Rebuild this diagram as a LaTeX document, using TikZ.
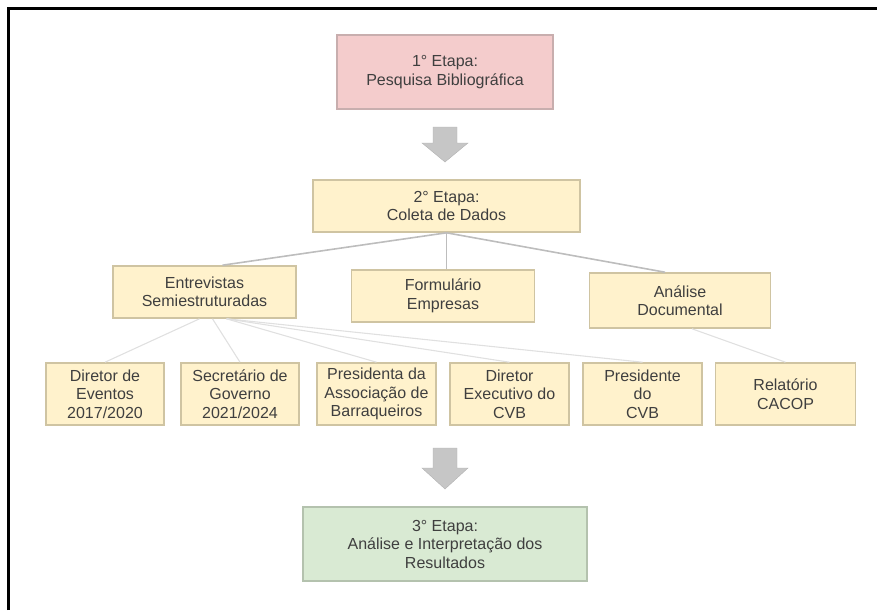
\documentclass[tikz,border=0pt]{standalone}
\usepackage{fontspec}
\setmainfont{Liberation Sans}
\definecolor{pinkfill}{HTML}{F4CCCC}
\definecolor{yelfill}{HTML}{FFF2CC}
\definecolor{grnfill}{HTML}{D9EAD3}
\definecolor{pinkline}{HTML}{C8AEAE}
\definecolor{yelline}{HTML}{CFC4A2}
\definecolor{grnline}{HTML}{B4C2AE}
\definecolor{txtgray}{HTML}{3F3F3F}
\definecolor{linkgray}{HTML}{BDBDBD}
\definecolor{leafgray}{HTML}{E0E0E0}
\definecolor{arrowfill}{HTML}{C6C6C6}
\tikzset{
  stagebox/.style={line width=1.6pt, inner sep=0pt, align=center,
    text=txtgray, font=\fontsize{16}{18.5}\selectfont},
  pinkbox/.style={stagebox, fill=pinkfill, draw=pinkline},
  yelbox/.style={stagebox, fill=yelfill, draw=yelline},
  grnbox/.style={stagebox, fill=grnfill, draw=grnline},
  link/.style={draw=linkgray, line width=1.6pt},
  leaflink/.style={draw=leafgray, line width=1.1pt},
  blockarrow/.style={fill=arrowfill, draw=arrowfill!90!black, line width=0.4pt},
  frameline/.style={line width=3pt, black}
}
\begin{document}
\begin{tikzpicture}[x=1pt,y=-1pt]
\useasboundingbox (0,0) rectangle (877,610);
\draw[frameline] (8,610) -- (8,8.5) -- (877,8.5);

\node[pinkbox, minimum width=216pt, minimum height=74pt] (b1) at (445,72) {1° Etapa:\\Pesquisa Bibliográfica};
\node[yelbox, minimum width=267pt, minimum height=52pt] (b2) at (446.5,206) {2° Etapa:\\Coleta de Dados};

\node[yelbox, minimum width=183pt, minimum height=52pt] (ent) at (204.5,292) {Entrevistas\\Semiestruturadas};
\node[yelbox, minimum width=183pt, minimum height=52pt] (form) at (443,296) {Formulário\\Empresas};
\node[yelbox, minimum width=181pt, minimum height=55pt] (doc) at (680,300.5) {Análise\\Documental};

\node[yelbox, minimum width=118pt, minimum height=62pt] (d1) at (105,394) {Diretor de\\Eventos\\2017/2020};
\node[yelbox, minimum width=118pt, minimum height=62pt] (d2) at (240,394) {Secretário de\\Governo\\2021/2024};
\node[yelbox, minimum width=119pt, minimum height=62pt] (d3) at (376.5,394) {Presidenta da\\Associação de\\Barraqueiros};
\node[yelbox, minimum width=119pt, minimum height=62pt] (d4) at (509.5,394) {Diretor\\Executivo do\\CVB};
\node[yelbox, minimum width=119pt, minimum height=62pt] (d5) at (642.5,394) {Presidente\\do\\CVB};
\node[yelbox, minimum width=140pt, minimum height=62pt] (d6) at (785.5,394) {Relatório\\CACOP};

\node[grnbox, minimum width=284pt, minimum height=74pt] (b3) at (445,544) {3° Etapa:\\Análise e Interpretação dos\\Resultados};

% connectors
\draw[link] (b2.south) -- ([xshift=18pt]ent.north);
\draw[link] (b2.south) -- (b2.south |- form.north);
\draw[link] (b2.south) -- ([xshift=-15pt]doc.north);
\draw[leaflink] ([xshift=-5pt]ent.south) -- (d1.north);
\draw[leaflink] ([xshift=8pt]ent.south) -- (d2.north);
\foreach \d in {d3,d4,d5}{
  \draw[leaflink] ([xshift=22pt]ent.south) -- (\d.north);
}
\draw[leaflink] ([xshift=12pt]doc.south) -- (d6.north);

% block arrows
\draw[blockarrow] (433,127) -- (457,127) -- (457,143) -- (468,143) -- (445,162) -- (422,143) -- (433,143) -- cycle;
\draw[blockarrow] (433,448) -- (457,448) -- (457,468) -- (468,468) -- (445,489) -- (422,468) -- (433,468) -- cycle;
\end{tikzpicture}
\end{document}
